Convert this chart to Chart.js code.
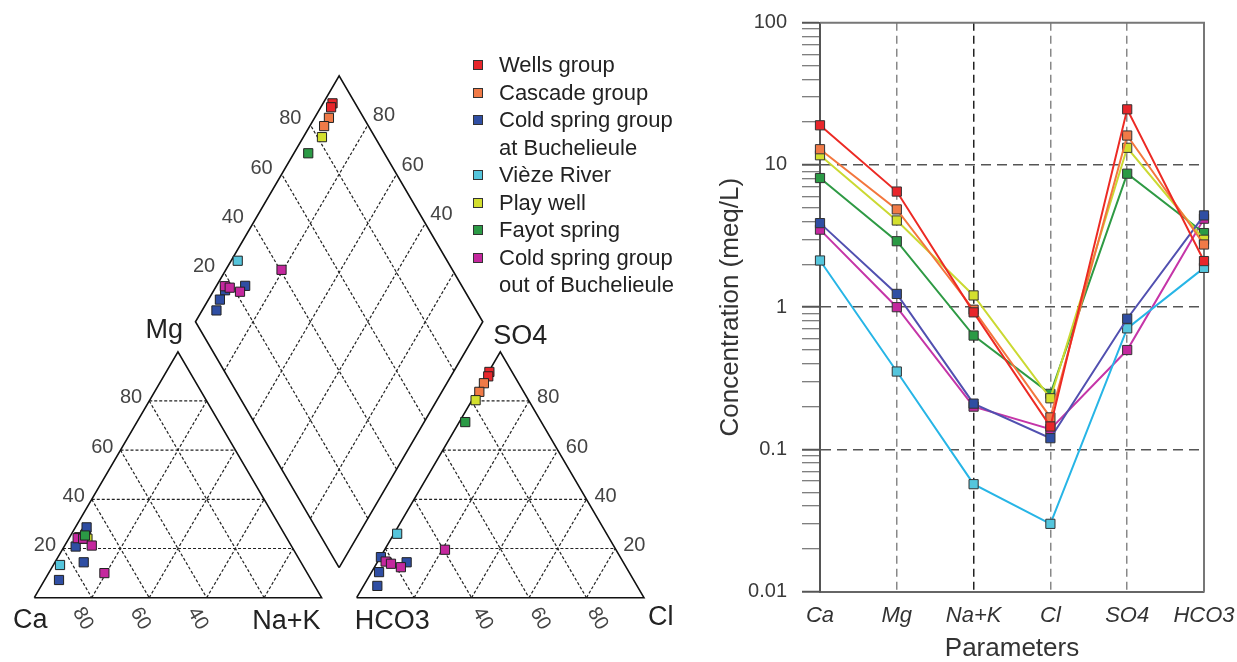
<!DOCTYPE html>
<html>
<head>
<meta charset="utf-8">
<title>Piper and Schoeller diagrams</title>
<script src="https://cdn.jsdelivr.net/npm/chart.js@4.4.1/dist/chart.umd.min.js"></script>
<style>
  body { margin: 0; background: #fff; font-family: "Liberation Sans", Arial, sans-serif; }
  #page { position: relative; width: 1237px; height: 662px; overflow: hidden; }
  #piperBox { position: absolute; left: 0; top: 0; width: 700px; height: 662px; }
  #schoellerBox { position: absolute; left: 700px; top: 0; width: 537px; height: 662px; }
  #legend { position: absolute; left: 473px; top: 51px; font-size: 22px; color: #222; line-height: 27.5px; }
  .item { position: relative; padding-left: 26px; white-space: nowrap; }
  .sw { position: absolute; left: 0; top: 9px; width: 8px; height: 8px; border: 1px solid #333; }
</style>
</head>
<body>
<div id="page">
  <div id="piperBox"><canvas id="piper"></canvas></div>
  <div id="schoellerBox"><canvas id="schoeller"></canvas></div>
  <div id="legend"></div>
</div>
<script>
const FONT = '"Liberation Sans", Arial, sans-serif';

// groups, same order as the legend
const groupNames = ['Wells group', 'Cascade group', 'Cold spring group<br>at Buchelieule', 'Vièze River',
  'Play well', 'Fayot spring', 'Cold spring group<br>out of Buchelieule'];
const fillColors = ['#e8262b', '#f07a47', '#2f4ea3', '#55c5dc', '#d3df2e', '#2b9a45', '#c4289e'];
const lineColors = ['#ec2a24', '#f3763d', '#5150b0', '#27b5e6', '#cbd932', '#2e9a44', '#c535a8'];

// Piper: cations [Ca, Mg, Na+K] in % meq, one row per sample
const wellsCat   = [[72.1, 24.6, 3.3], [72.4, 24.0, 3.6]];
const cascadeCat = [[69.0, 26.0, 5.0], [69.5, 25.5, 5.0]];
const coldAtCat  = [[67.5, 28.6, 3.9], [75.2, 20.8, 4.0], [75.6, 14.4, 10.0], [87.8, 7.2, 5.0]];
const viezeCat   = [[84.4, 13.3, 2.3]];
const playCat    = [[69.5, 24.0, 6.5]];
const fayotCat   = [[69.7, 25.3, 5.0]];
const coldOutCat = [[72.8, 24.2, 3.0], [71.0, 24.0, 5.0], [69.4, 21.2, 9.4], [70.6, 10.0, 19.4]];

// Piper: anions [HCO3, SO4, Cl] in % meq, same samples
const wellsAn   = [[7.9, 91.8, 0.3], [9.2, 90.0, 0.8]];
const cascadeAn = [[12.1, 87.2, 0.7], [15.45, 83.7, 0.85]];
const coldAtAn  = [[83.3, 16.5, 0.2], [87.0, 10.4, 2.6], [75.4, 14.4, 10.2], [90.4, 4.8, 4.8]];
const viezeAn   = [[72.9, 26.0, 1.1]];
const playAn    = [[18.45, 80.3, 1.25]];
const fayotAn   = [[26.5, 71.4, 2.1]];
const coldOutAn = [[82.55, 14.7, 2.75], [81.15, 13.8, 5.05], [78.4, 12.4, 9.2], [59.5, 19.5, 21.0]];

// Schoeller: concentrations in meq/L
const params = ['Ca', 'Mg', 'Na+K', 'Cl', 'SO4', 'HCO3'];
const wellsMeq   = [19.0, 6.5, 0.92, 0.145, 24.6, 2.11];
const cascadeMeq = [12.9, 4.87, 0.96, 0.168, 16.1, 2.76];
const coldAtMeq  = [3.9, 1.24, 0.21, 0.12, 0.83, 4.42];
const viezeMeq   = [2.13, 0.353, 0.057, 0.030, 0.71, 1.89];
const playMeq    = [11.7, 4.07, 1.21, 0.229, 13.2, 2.98];
const fayotMeq   = [8.09, 2.91, 0.632, 0.246, 8.68, 3.32];
const coldOutMeq = [3.51, 1.0, 0.20, 0.139, 0.50, 4.19];

// tick labels
const yDecades = [0.01, 0.1, 1, 10, 100];
const piperTicks = [20, 40, 60, 80];
const caBottomTicks = [80, 60, 40];
const clBottomTicks = [40, 60, 80];
const diamondRightTicks = [40, 60, 80];

const cations = [wellsCat, cascadeCat, coldAtCat, viezeCat, playCat, fayotCat, coldOutCat];
const anions = [wellsAn, cascadeAn, coldAtAn, viezeAn, playAn, fayotAn, coldOutAn];
const meq = [wellsMeq, cascadeMeq, coldAtMeq, viezeMeq, playMeq, fayotMeq, coldOutMeq];

// legend
document.getElementById('legend').innerHTML = groupNames.map((n, i) =>
  `<div class="item"><span class="sw" style="background:${fillColors[i]}"></span>${n}</div>`).join('');

// ---------- Piper geometry (triangle side = 100 units) ----------
const GAP = 12.2;
const H = Math.sqrt(3) / 2;
const catXY = (ca, mg, na) => {
  const s = 100 / (ca + mg + na);
  return { x: (na + mg / 2) * s, y: mg * s * H };
};
const anXY = (hco3, so4, cl) => {
  const s = 100 / (hco3 + so4 + cl);
  return { x: 100 + GAP + (cl + so4 / 2) * s, y: so4 * s * H };
};
// u = Ca+Mg %, w = SO4+Cl %
const diaXY = (u, w) => ({ x: 100 + GAP / 2 + (w - u) / 2, y: GAP * H + (u + w) * H });

const lineSet = (pts, dashed) => ({
  data: pts, showLine: true, pointRadius: 0, fill: false,
  borderColor: dashed ? '#222' : '#111', borderWidth: dashed ? 1.2 : 1.6,
  borderDash: dashed ? [3, 2] : [], order: 20
});

const piperSets = [];
piperSets.push(lineSet([catXY(100, 0, 0), catXY(0, 100, 0), catXY(0, 0, 100), catXY(100, 0, 0)], false));
piperSets.push(lineSet([anXY(100, 0, 0), anXY(0, 100, 0), anXY(0, 0, 100), anXY(100, 0, 0)], false));
piperSets.push(lineSet([diaXY(0, 0), diaXY(100, 0), diaXY(100, 100), diaXY(0, 100), diaXY(0, 0)], false));
piperTicks.forEach(k => {
  piperSets.push(lineSet([catXY(100 - k, k, 0), catXY(0, k, 100 - k)], true));
  piperSets.push(lineSet([catXY(k, 100 - k, 0), catXY(k, 0, 100 - k)], true));
  piperSets.push(lineSet([catXY(100 - k, 0, k), catXY(0, 100 - k, k)], true));
  piperSets.push(lineSet([anXY(100 - k, k, 0), anXY(0, k, 100 - k)], true));
  piperSets.push(lineSet([anXY(k, 100 - k, 0), anXY(k, 0, 100 - k)], true));
  piperSets.push(lineSet([anXY(100 - k, 0, k), anXY(0, 100 - k, k)], true));
  piperSets.push(lineSet([diaXY(k, 0), diaXY(k, 100)], true));
  piperSets.push(lineSet([diaXY(0, k), diaXY(100, k)], true));
});

const drawOrder = [7, 6, 2, 3, 5, 0, 1];
groupNames.forEach((n, i) => {
  const pts = [];
  cations[i].forEach(c => pts.push(catXY(c[0], c[1], c[2])));
  anions[i].forEach(a => pts.push(anXY(a[0], a[1], a[2])));
  cations[i].forEach((c, j) => {
    const a = anions[i][j];
    const cs = c[0] + c[1] + c[2], as = a[0] + a[1] + a[2];
    pts.push(diaXY((c[0] + c[1]) * 100 / cs, (a[1] + a[2]) * 100 / as));
  });
  piperSets.push({
    label: n, data: pts, showLine: false, pointStyle: 'rect', pointRadius: 6.5,
    pointBackgroundColor: fillColors[i], pointBorderColor: '#222', pointBorderWidth: 1,
    order: drawOrder[i], clip: false
  });
});

const piperText = {
  id: 'piperText',
  afterDraw(chart) {
    const { ctx, scales: { x, y } } = chart;
    const put = (txt, p, dx, dy, align, size, color, rot) => {
      ctx.save();
      ctx.translate(x.getPixelForValue(p.x) + dx, y.getPixelForValue(p.y) + dy);
      if (rot) ctx.rotate(rot);
      ctx.font = size + 'px ' + FONT;
      ctx.fillStyle = color;
      ctx.textAlign = align;
      ctx.textBaseline = 'middle';
      ctx.fillText(txt, 0, 0);
      ctx.restore();
    };
    const tc = '#444', vc = '#222';
    piperTicks.forEach(k => {
      put(String(k), catXY(100 - k, k, 0), -7, -3, 'right', 20, tc);
      put(String(k), anXY(0, k, 100 - k), 8, -3, 'left', 20, tc);
      put(String(k), diaXY(100, k), -9, -6, 'right', 20, tc);
    });
    diamondRightTicks.forEach(k => put(String(k), diaXY(k, 100), 5, -9, 'left', 20, tc));
    caBottomTicks.forEach(k => put(String(k), catXY(k, 0, 100 - k), -9, 21, 'center', 20, tc, Math.PI / 3));
    clBottomTicks.forEach(k => put(String(k), anXY(100 - k, 0, k), 11, 21, 'center', 20, tc, Math.PI / 3));
    put('Ca', catXY(100, 0, 0), -4, 23, 'center', 27, vc);
    put('Na+K', catXY(0, 0, 100), -1, 24, 'right', 27, vc);
    put('Mg', catXY(0, 100, 0), 5, -21, 'right', 27, vc);
    put('HCO3', anXY(100, 0, 0), -2, 24, 'left', 27, vc);
    put('Cl', anXY(0, 0, 100), 4, 20, 'left', 27, vc);
    put('SO4', anXY(0, 100, 0), -7, -15, 'left', 27, vc);
  }
};

const xMin = -34.3 / 2.873;
const yMax = 597.7 / 2.84;
new Chart(document.getElementById('piper'), {
  type: 'scatter',
  data: { datasets: piperSets },
  options: {
    responsive: true, maintainAspectRatio: false, animation: false,
    layout: { padding: 0, autoPadding: false },
    plugins: { legend: { display: false }, tooltip: { enabled: false } },
    scales: {
      x: { type: 'linear', display: false, min: xMin, max: xMin + 700 / 2.873 },
      y: { type: 'linear', display: false, min: yMax - 662 / 2.84, max: yMax }
    }
  },
  plugins: [piperText]
});

// ---------- Schoeller diagram ----------
const frame = {
  id: 'frame',
  beforeDatasetsDraw(chart) {
    const { ctx, chartArea: a } = chart;
    ctx.save();
    ctx.strokeStyle = '#777';
    ctx.lineWidth = 2;
    ctx.beginPath();
    ctx.moveTo(a.left, a.top);
    ctx.lineTo(a.right, a.top);
    ctx.lineTo(a.right, a.bottom);
    ctx.stroke();
    ctx.restore();
  }
};

const schoellerSets = groupNames.map((n, i) => ({
  label: n.replace('<br>', ' '), data: meq[i],
  borderColor: lineColors[i], borderWidth: 2, tension: 0, fill: false,
  pointStyle: 'rect', pointRadius: 6.5,
  pointBackgroundColor: fillColors[i], pointBorderColor: '#333', pointBorderWidth: 1,
  clip: false
}));

new Chart(document.getElementById('schoeller'), {
  type: 'line',
  data: { labels: params, datasets: schoellerSets },
  options: {
    responsive: true, maintainAspectRatio: false, animation: false,
    layout: { padding: { top: 22.7, right: 33, left: 0, bottom: 0 }, autoPadding: false },
    plugins: { legend: { display: false }, tooltip: { enabled: false } },
    scales: {
      x: {
        type: 'category', offset: false,
        afterFit: s => { s.height = 70.3; s.paddingLeft = 0; s.paddingRight = 0; },
        grid: {
          offset: false, drawTicks: false, lineWidth: 1.5,
          color: c => (c.index === 0 || c.index === params.length - 1) ? 'rgba(0,0,0,0)' : (c.index === 2 ? '#222' : '#888')
        },
        border: { display: true, color: '#666', width: 2, dash: [8, 5] },
        ticks: { color: '#333', padding: 11, maxRotation: 0, autoSkip: false,
          font: { size: 22, style: 'italic', family: FONT } },
        title: { display: true, text: 'Parameters', color: '#333',
          font: { size: 26, family: FONT, lineHeight: 1 }, padding: { top: 0, bottom: 0 } }
      },
      y: {
        type: 'logarithmic', min: yDecades[0], max: yDecades[yDecades.length - 1],
        afterFit: s => { s.width = 120; s.paddingTop = 0; s.paddingBottom = 0; },
        afterBuildTicks: s => {
          const t = [];
          yDecades.forEach((d, i) => {
            if (i === yDecades.length - 1) { t.push({ value: d, major: true }); return; }
            for (let m = 1; m < 10; m++) t.push({ value: m === 1 ? d : d * m, major: m === 1 });
          });
          s.ticks = t;
        },
        grid: {
          lineWidth: 1.5, tickLength: 18, tickColor: '#555',
          tickWidth: c => (c.tick && yDecades.includes(c.tick.value)) ? 2 : 1,
          color: c => (c.tick && yDecades.includes(c.tick.value) && c.tick.value !== yDecades[0] &&
            c.tick.value !== yDecades[yDecades.length - 1]) ? '#555' : 'rgba(0,0,0,0)'
        },
        border: { display: true, color: '#555', width: 2, dash: [10, 6] },
        ticks: {
          autoSkip: false, padding: 15, color: '#3a3a3a', font: { size: 20, family: FONT },
          callback: v => yDecades.includes(v) ? String(v) : ''
        },
        title: { display: true, text: 'Concentration (meq/L)', color: '#333',
          font: { size: 26, family: FONT }, padding: { top: 15, bottom: 0 } }
      }
    }
  },
  plugins: [frame]
});
</script>
</body>
</html>
